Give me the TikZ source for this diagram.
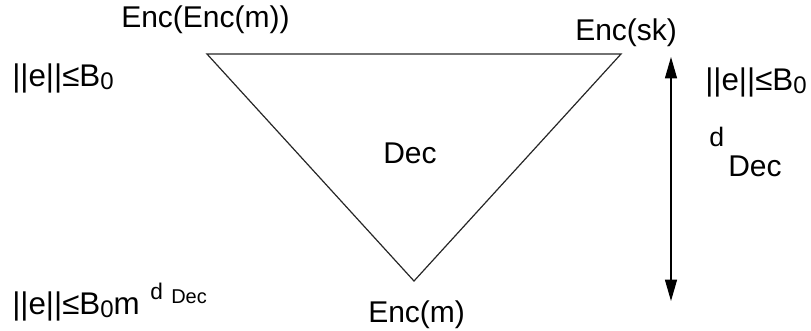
\documentclass[tikz,border=0pt]{standalone}
\usepackage{fontspec}
\setmainfont{Liberation Sans}
\usetikzlibrary{arrows.meta}
\newcommand\lowzero{\raisebox{-0.12em}{\fontsize{18pt}{18pt}\selectfont 0}}
\tikzset{
  lbl/.style={inner sep=0pt, anchor=base west, font=\fontsize{22.5pt}{24pt}\selectfont},
  bnd/.style={inner sep=0pt, anchor=base west, font=\fontsize{23.5pt}{24pt}\selectfont},
  small/.style={inner sep=0pt, anchor=base west, font=\fontsize{#1}{16pt}\selectfont},
  edge/.style={line width=0.9pt, draw=black!85},
  dblarrow/.style={line width=0.9pt, {Triangle[width=9pt,length=16pt]}-{Triangle[width=9pt,length=16pt]}}
}
\begin{document}
\begin{tikzpicture}[x=0.75pt,y=-0.75pt]
\useasboundingbox (0,0) rectangle (811,330);
% triangle corners
\coordinate (tl) at (207,54);
\coordinate (tr) at (621,54);
\coordinate (bt) at (414,281);
\draw[edge] (tl) -- (tr) -- (bt) -- cycle;
% arrow
\coordinate (atop) at (671,57);
\coordinate (abot) at (671,301);
\draw[dblarrow] (atop) -- (abot);
% labels
\node[lbl] (encenc) at (121,27) {Enc(Enc(m))};
\node[lbl] (encsk) at (575,40) {Enc(sk)};
\node[bnd] (boundl) at (12,86) {||e||≤B\lowzero};
\node[bnd] (boundr) at (705,90) {||e||≤B\lowzero};
\node[lbl] (dec) at (383,163) {Dec};
\node[small=20pt] (dd) at (709,146) {d};
\node[lbl] (ddec) at (728,176) {Dec};
\node[lbl] (encm) at (368,322) {Enc(m)};
\node[bnd] (boundb) at (12,314) {||e||≤B\lowzero m};
\node[small=17pt] (bd) at (150,299) {d};
\node[small=15pt] (bdec) at (171,303) {Dec};
\end{tikzpicture}
\end{document}
